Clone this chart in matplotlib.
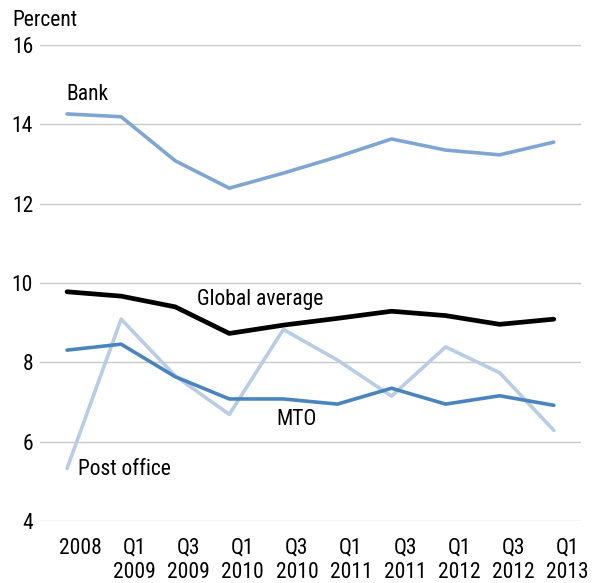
import matplotlib
matplotlib.use("Agg")
import matplotlib.pyplot as plt
from matplotlib import font_manager
import numpy as np

periods = ["2008", "Q1\n2009", "Q3\n2009", "Q1\n2010", "Q3\n2010",
           "Q1\n2011", "Q3\n2011", "Q1\n2012", "Q3\n2012", "Q1\n2013"]
bank = [14.26, 14.19, 13.08, 12.39, 12.77, 13.18, 13.63, 13.35, 13.23, 13.55]
global_avg = [9.78, 9.67, 9.40, 8.73, 8.94, 9.11, 9.29, 9.18, 8.96, 9.09]
mto = [8.31, 8.46, 7.64, 7.08, 7.08, 6.95, 7.35, 6.95, 7.16, 6.92]
post_office = [5.33, 9.09, 7.66, 6.69, 8.83, 8.06, 7.15, 8.39, 7.74, 6.29]
yticks = [4, 6, 8, 10, 12, 14, 16]

# pick a condensed sans font if one is installed
ttf = font_manager.fontManager.ttflist
names = {f.name for f in ttf}
fam, stretch, fs = None, "normal", 14.0
for cand in ["Liberation Sans Narrow", "Roboto Condensed", "Open Sans Condensed",
             "Noto Sans Condensed", "Arial Narrow"]:
    if cand in names:
        fam, fs = cand, 15.5
        break
if fam is None:
    for f in ttf:
        if f.stretch in ("condensed", "semi-condensed") and f.style == "normal" \
                and f.weight in (400, "normal", "regular"):
            fam, stretch, fs = f.name, f.stretch, 15.0
            break
if fam is None:
    fam = "Liberation Sans"
plt.rcParams["font.family"] = [fam, "DejaVu Sans"]
plt.rcParams["font.stretch"] = stretch

fig = plt.figure(figsize=(6.0, 5.83), dpi=100)
ax = fig.add_axes([0.0667, 0.106, 0.9013, 0.817])
x = np.arange(len(periods))

ax.plot(x, bank, color="#7fa6d2", lw=2.6, solid_capstyle="round", zorder=3)
ax.plot(x, post_office, color="#b9cce6", lw=2.6, solid_capstyle="round", zorder=3)
ax.plot(x, mto, color="#4a84be", lw=2.6, solid_capstyle="round", zorder=4)
ax.plot(x, global_avg, color="black", lw=3.4, solid_capstyle="round", zorder=5)

ax.set_xlim(-0.5, len(periods) - 0.5)
ax.set_ylim(4, 16)
ax.set_yticks(yticks)
ax.set_yticklabels([str(v) for v in yticks], fontsize=fs)
ax.set_xticks(x + 0.25)
ax.set_xticklabels(periods, fontsize=fs, linespacing=1.22)
ax.tick_params(axis="both", length=0)
ax.tick_params(axis="x", pad=12)
ax.tick_params(axis="y", pad=5)
ax.grid(axis="y", color="#c8c8c8", lw=1.0)
ax.set_axisbelow(True)
for s in ax.spines.values():
    s.set_visible(False)

ax.text(-0.01, 14.61, "Bank", fontsize=fs, ha="left", va="baseline")
ax.text(2.40, 9.45, "Global average", fontsize=fs, ha="left", va="baseline")
ax.text(3.87, 6.43, "MTO", fontsize=fs, ha="left", va="baseline")
ax.text(0.21, 5.17, "Post office", fontsize=fs, ha="left", va="baseline")
fig.text(12.5 / 600, 1 - 26 / 583, "Percent", fontsize=fs, ha="left", va="baseline")

fig.savefig("out.png", dpi=100)
